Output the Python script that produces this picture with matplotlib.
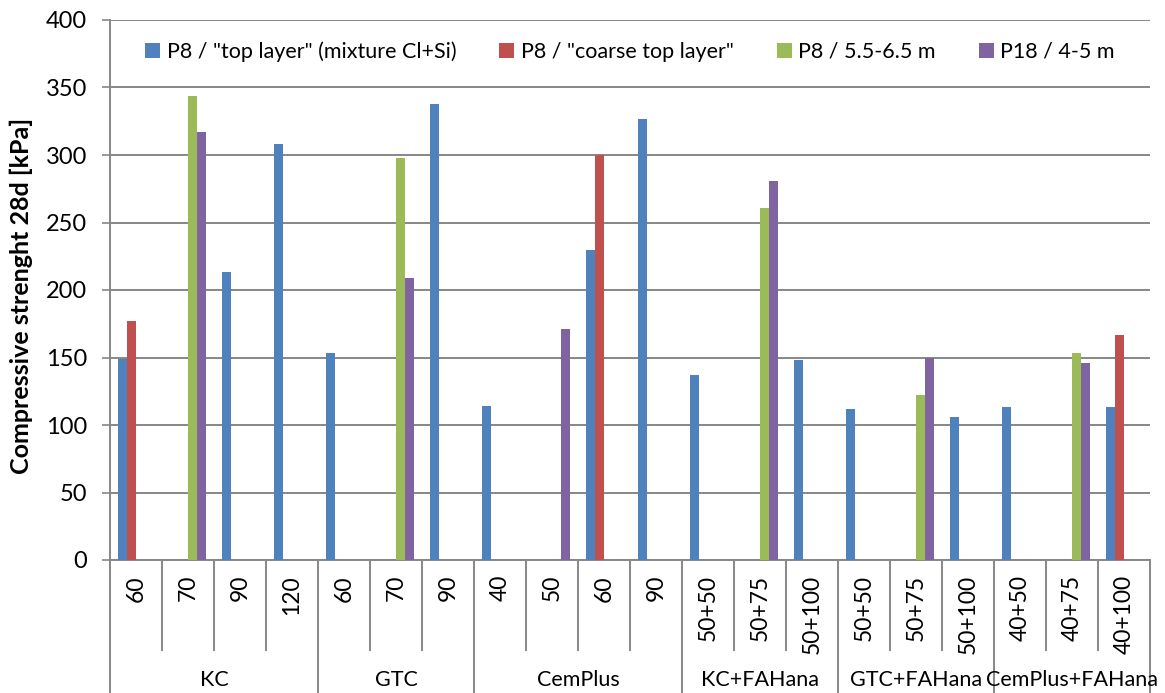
import numpy as np
import matplotlib
matplotlib.use("Agg")
import matplotlib.pyplot as plt
from matplotlib.lines import Line2D

plt.rcParams['font.family'] = ['Lato', 'DejaVu Sans']

nan = np.nan

# data
sub_labels = ['60', '70', '90', '120',
              '60', '70', '90',
              '40', '50', '60', '90',
              '50+50', '50+75', '50+100',
              '50+50', '50+75', '50+100',
              '40+50', '40+75', '40+100']
group_names = ['KC', 'GTC', 'CemPlus', 'KC+FAHana', 'GTC+FAHana', 'CemPlus+FAHana']
group_sizes = [4, 3, 4, 3, 3, 3]

series_names = ['P8 / "top layer" (mixture Cl+Si)', 'P8 / "coarse top layer"',
                'P8 / 5.5-6.5 m', 'P18 / 4-5 m']
top_layer = [149, nan, 213, 308, 153, nan, 338, 114, nan, 230, 327,
             137, nan, 148, 112, nan, 106, 113, nan, 113]
coarse_top = [177, nan, nan, nan, nan, nan, nan, nan, nan, 300, nan,
              nan, nan, nan, nan, nan, nan, nan, nan, 167]
p8_deep = [nan, 344, nan, nan, nan, 298, nan, nan, nan, nan, nan,
           nan, 261, nan, nan, 122, nan, nan, 153, nan]
p18 = [nan, 317, nan, nan, nan, 209, nan, nan, 171, nan, nan,
       nan, 281, nan, nan, 150, nan, nan, 146, nan]

colors = ['#4F81BD', '#C0504D', '#9BBB59', '#8064A2']
grid_c = '#878787'

fig = plt.figure(figsize=(11.65, 6.93), dpi=100)
ax = fig.add_axes([110 / 1165, 1 - 560 / 693, 1040 / 1165, 540 / 693])

n = len(sub_labels)
x = np.arange(n)
w = 0.173
for i, (vals, c, name) in enumerate(zip([top_layer, coarse_top, p8_deep, p18], colors, series_names)):
    ax.bar(x + (i - 1.5) * w, vals, width=w, color=c, label=name, zorder=3)

ax.set_xlim(-0.5, n - 0.5)
ax.set_ylim(0, 400)
ax.set_yticks(np.arange(0, 401, 50))
ax.yaxis.grid(True, color=grid_c, linewidth=1.4, zorder=0)
ax.tick_params(axis='y', labelsize=17, length=5.5, width=1.2, color=grid_c, pad=11)
ax.set_xticks([])
for s in ['top', 'right']:
    ax.spines[s].set_visible(False)
for s in ['left', 'bottom']:
    ax.spines[s].set_color(grid_c)
    ax.spines[s].set_linewidth(1.4)

ax.set_ylabel('Compressive strenght 28d [kPa]', fontsize=18, fontweight='bold')
ax.yaxis.set_label_coords(-0.074, 0.489)

# two level x axis
tr = ax.get_xaxis_transform()
h = 540.0
for i, lab in enumerate(sub_labels):
    ax.text(i, -15 / h, lab, transform=tr, rotation=90, ha='center', va='top', fontsize=16.5)

bounds = np.cumsum([0] + group_sizes)
for b in range(n + 1):
    bottom = -90 / h
    if b in bounds:
        bottom = -133 / h
    ax.add_line(Line2D([b - 0.5, b - 0.5], [0, bottom], transform=tr, color=grid_c,
                       linewidth=1.4, clip_on=False))
for g, name in enumerate(group_names):
    mid = (bounds[g] + bounds[g + 1]) / 2 - 0.5
    ax.text(mid, -120 / h, name, transform=tr, ha='center', va='center', fontsize=15.5)

ax.legend(loc='center', bbox_to_anchor=(0.5, 0.942), ncol=4, frameon=False, fontsize=15.5,
          handlelength=0.7, handleheight=0.7, handletextpad=0.3, columnspacing=2.0)

fig.savefig('out.png', dpi=100)
